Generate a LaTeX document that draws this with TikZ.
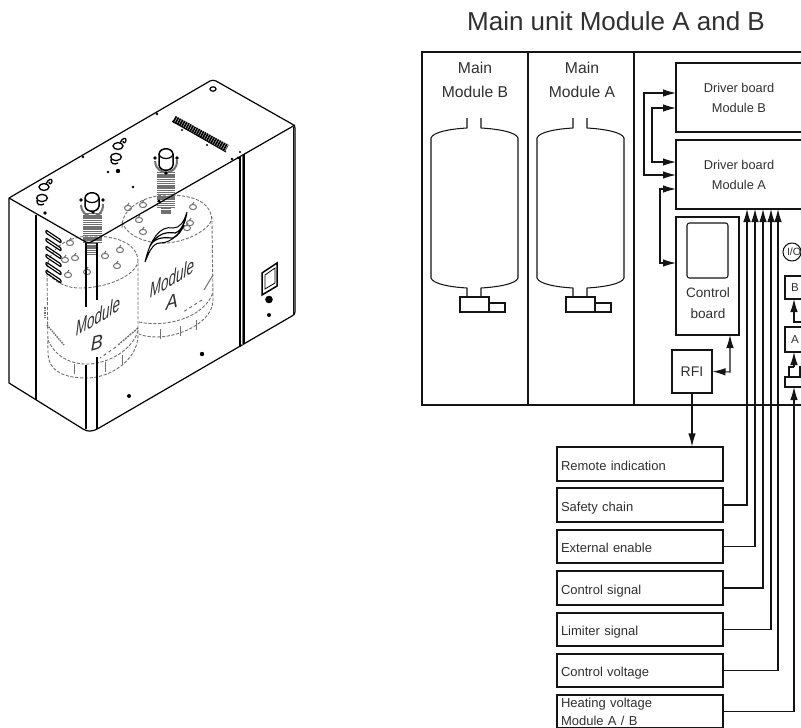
\documentclass[tikz,border=0pt]{standalone}
\usepackage{fontspec}
\setmainfont{Liberation Sans}
\usetikzlibrary{arrows.meta,calc}
\definecolor{ink}{HTML}{141414}
\definecolor{txt}{HTML}{303030}
\definecolor{ghost}{HTML}{707070}
\tikzset{
  wire/.style={draw=ink,line width=1.05pt},
  arr/.style={wire,-{Latex[length=13pt,width=7.5pt]}},
  arrb/.style={wire,{Latex[length=13pt,width=7.5pt]}-{Latex[length=13pt,width=7.5pt]}},
  box/.style={draw=ink,line width=1.05pt,rectangle,inner sep=0pt,text=txt,align=center,font=\fontsize{12.8}{20}\selectfont},
  sig/.style={draw=ink,line width=1.05pt,rectangle,minimum width=166pt,text width=158pt,inner xsep=4pt,inner ysep=0pt,align=left,text=txt,text height=12pt,text depth=0pt,font=\fontsize{13}{19.5}\selectfont},
  captxt/.style={text=txt,align=center,inner sep=0pt,font=\fontsize{13.6}{20.5}\selectfont},
  headtxt/.style={text=txt,align=center,inner sep=0pt,font=\fontsize{15.7}{23.5}\selectfont},
  hid/.style={draw=ghost,line width=0.9pt,dash pattern=on 3.2pt off 1.6pt},
  gbit/.style={draw=ghost,line width=1pt},
  body/.style={draw=black,line width=1.2pt,line join=round},
  modlabel/.style={text=txt,inner sep=0pt,yslant=0.6,xscale=0.64,font=\fontsize{21}{24}\selectfont\itshape},
  letlabel/.style={text=txt,inner sep=0pt,yslant=0.3,xscale=0.9,font=\fontsize{20}{24}\selectfont\itshape},
}
\begin{document}
\begin{tikzpicture}[x=1pt,y=-1pt]
\useasboundingbox (0,0) rectangle (801,728);
\clip (0,0) rectangle (801,728);
% ---------- left illustration: hidden tanks
% tank A
\draw[hid] (122,228) .. controls (121,205) and (150,195) .. (167,195) .. controls (190,195) and (212,200) .. (212,222) -- (213,300) .. controls (213,322) and (180,337) .. (157,337) .. controls (150,337) and (143,336) .. (139,334);
\draw[hid] (122,222) .. controls (128,238) and (150,244) .. (167,243) .. controls (190,241) and (212,228) .. (212,217);
\draw[hid] (139,322) .. controls (165,328) and (205,318) .. (213,292);
\foreach \x/\y in {160/329,180/326,196/320}{\draw[gbit] (\x,\y)--(\x,{\y+10});}
\foreach \x/\y in {139/220,128/208,143/205,193/207,190/223,143/232,187/228}{\draw[gbit] (\x,\y) circle[x radius=3.6pt,y radius=2.6pt];\draw[gbit] (\x-1,\y-2)--(\x+1,\y-5);}
\draw[gbit] (213,275)--(204,290);\draw[gbit,dashed] (202,300)--(183,312);
% tank B
\draw[hid] (47,272) .. controls (47,250) and (65,236) .. (92,236) .. controls (120,236) and (138,245) .. (138,262) -- (138,335) .. controls (138,360) and (110,378) .. (87,378) .. controls (65,378) and (48,372) .. (48,352) -- (47,272);
\draw[hid] (47,270) .. controls (52,282) and (68,289) .. (83,288) .. controls (110,287) and (135,275) .. (138,262);
\draw[hid] (48,340) .. controls (55,356) and (70,365) .. (90,364) .. controls (115,362) and (135,345) .. (138,330);
\foreach \x/\y in {70/243,120/250,117/266,87/272,68/275,65/260,75/258,105/256}{\draw[gbit] (\x,\y) circle[x radius=3.6pt,y radius=2.6pt];\draw[gbit] (\x-1,\y-2)--(\x+1,\y-5);}
\foreach \x/\y in {74/364,105/362,122/355}{\draw[gbit] (\x,\y)--(\x,{\y+10});}
\draw[gbit,line width=1.5pt,dash pattern=on 1.5pt off 1pt] (47,325)--(64,345);
\draw[gbit,line width=1.4pt,dash pattern=on 2pt off 1pt] (138,328)--(118,345);
\draw[gbit,dashed] (116,347)--(100,358);
\draw[gbit,line width=1.5pt,dash pattern=on 1.5pt off 1pt] (45,307)--(45,318);
% bellows and caps
\draw[ghost,line width=18pt,dash pattern=on 1.3pt off 0.9pt] (166,172)--(166,208);
\draw[ghost,line width=10pt,dash pattern=on 1.3pt off 0.9pt] (166,208)--(166,214);
\draw[ghost,line width=19pt,dash pattern=on 1.3pt off 0.9pt] (92,213)--(92,243);
\draw[ghost,line width=11pt,dash pattern=on 1.3pt off 0.9pt] (92,243)--(92,255);
\draw[gbit,line width=2pt] (155,161) .. controls (156,171) and (162,171) .. (166,173) .. controls (172,171) and (177,170) .. (177,160);
\draw[gbit,line width=2pt] (81,205) .. controls (82,215) and (88,215) .. (92,217) .. controls (98,215) and (103,214) .. (103,204);
\foreach \x/\y in {155/158,166/173,177/158,81/200,93/212,103/200}{\fill[black] (\x,\y) circle[radius=1.8pt];}
\draw[body,fill=white,line width=1.5pt] (159,154) -- (159,165) .. controls (160,172) and (172,172) .. (173,165) -- (173,154) .. controls (172,147) and (160,147) .. (159,154) -- cycle;
\draw[body] (159,154) .. controls (160,160) and (172,160) .. (173,154);
\draw[body,fill=white,line width=1.5pt] (85,198) -- (85,206) .. controls (86,213) and (98,213) .. (99,206) -- (99,198) .. controls (98,191) and (86,191) .. (85,198) -- cycle;
\draw[body] (85,198) .. controls (86,204) and (98,204) .. (99,198);
% enclosure
\draw[body] (9,198) -- (210,81) .. controls (212,80) and (214,80) .. (216,81) -- (292,124) .. controls (294,125) and (295,126) .. (295,128) -- (295,312) .. controls (295,314) and (294,315) .. (292,316) -- (99,428) .. controls (92,432) and (88,432) .. (83,429) -- (9,383) -- cycle;
\draw[body] (9,198) -- (84,241) .. controls (87,243) and (90,243) .. (93,241) -- (295,125);
\draw[body] (36,215) -- (36,400);
\draw[body] (86,243) -- (86,307) (97,243) -- (97,300) (86,365) -- (86,429) (97,357) -- (97,429);
\draw[body] (240,157) -- (240,347);
\draw[body,line width=1.5pt] (244,154) -- (244,344);
\draw[ghost,line width=0.8pt] (242,156) -- (242,346);
\draw[ink,line width=0.9pt] (293,127) -- (293,315);
% vent slots
\foreach \k in {0,...,5}{\draw[black,line width=1.2pt,rounded corners=1pt] (46,{230+8*\k}) -- (61,{240+8*\k}) -- (61,{243+8*\k}) -- (46,{233+8*\k}) -- cycle;}
% grill
\draw[black,line width=7pt,dash pattern=on 1.7pt off 0.7pt] (174,119) -- (227,148);
\draw[black,line width=1pt] (172,121)--(226,152);
% top fittings
\draw[black,line width=1.2pt] (213,89) circle[x radius=3pt,y radius=2.2pt];
\foreach \gx/\gy in {0/0,74/-41}{
\begin{scope}[shift={(\gx,\gy)}]
\draw[black,line width=1.3pt] (42,198) circle[x radius=5.4pt,y radius=3.6pt];
\draw[black,line width=1.3pt] (44,187) circle[x radius=5pt,y radius=3.4pt];
\draw[black,line width=1.3pt] (37,200) .. controls (36,205) and (41,206) .. (44,204);
\draw[black,line width=1.3pt] (46,184) .. controls (48,179) and (52,178) .. (52,181) .. controls (52,184) and (49,185) .. (49,182);
\end{scope}}
\foreach \x/\y/\r in {157/114/1.4,83/157/1.4,45/213/1.8,108/172/1.3,118/171/2.2,133/187/1.4,232/159/1.4,238/158/1.4,240/152/1.2,182/130/1.2,207/145/1.2,159/201/1.6,202/354/2.2,129/396/2,269/315/2}{\fill[black] (\x,\y) circle[radius=\r pt];}
% logo
\draw[black,line width=1pt,fill=white] (145,262) .. controls (150,240) and (160,225) .. (173,228) .. controls (180,228) and (184,222) .. (187,212) .. controls (184,232) and (172,243) .. (160,243) .. controls (152,243) and (148,255) .. (145,262) -- cycle;
\draw[black,line width=1.2pt] (150,246) .. controls (158,232) and (168,232) .. (175,233) .. controls (180,232) and (183,226) .. (185,220);
\draw[black,line width=1.2pt] (152,243) .. controls (158,236) and (168,238) .. (173,238) .. controls (178,236) and (182,230) .. (184,225);
% labels on tanks
\node[modlabel] (lblmb) at (98,316) {Module};
\node[letlabel] (lblb) at (97,343) {B};
\node[modlabel] (lblma) at (172,278) {Module};
\node[letlabel] (lbla) at (172,302) {A};
% panel
\draw[black,line width=1.5pt] (262,273) -- (277,263) -- (277,286) -- (262,295) -- cycle;
\draw[black,line width=0.8pt] (265,275) -- (275,268) -- (275,283) -- (265,289) -- cycle;
\fill[black] (269,299.5) circle[radius=3.8pt];
% ---------- right schematic
\node[text=txt,inner sep=0pt,font=\fontsize{26}{30}\selectfont] (title) at (616,21) {Main unit Module A and B};
\draw[wire] (801,52) -- (422,52) -- (422,405) -- (801,405);
\draw[wire] (528,52) -- (528,405) (634,52) -- (634,405);
\node[headtxt] (mb) at (475,80) {Main\\Module B};
\node[headtxt] (ma) at (582,80) {Main\\Module A};
\foreach \d in {0,106}{
\begin{scope}[xshift=\d pt]
\draw[wire,line join=round] (467,118) -- (467,128) .. controls (450,129) and (433,132) .. (431,138) -- (431,278) .. controls (433,284) and (450,287) .. (467,288) -- (467,297);
\draw[wire,line join=round] (481,118) -- (481,128) .. controls (498,129) and (516,132) .. (518,138) -- (518,278) .. controls (516,284) and (498,287) .. (481,288) -- (481,297);
\draw[wire] (460,297) rectangle (489,312);
\draw[wire] (489,303) rectangle (505,312);
\end{scope}}
\node[box,minimum width=126pt,minimum height=69pt] (drvb) at (739,97.5) {Driver board\\Module B};
\node[box,minimum width=126pt,minimum height=69pt] (drva) at (739,174.5) {Driver board\\Module A};
\node[box,minimum width=63pt,minimum height=118pt] (ctrl) at (707.5,276) {};
\draw[wire,rounded corners=2.5pt] (687,223) rectangle (728,278);
\node[captxt] (ctrltxt) at (708,303) {Control\\board};
\node[box,minimum width=40pt,minimum height=43pt,font=\fontsize{14}{16}\selectfont] (rfi) at (692,371.5) {RFI};
\node[sig,minimum height=34pt] (s1) at (640,464) {Remote indication};
\node[sig,minimum height=34pt] (s2) at (640,505) {Safety chain};
\node[sig,minimum height=33pt] (s3) at (640,546.5) {External enable};
\node[sig,minimum height=34pt] (s4) at (640,588) {Control signal};
\node[sig,minimum height=33pt] (s5) at (640,629.5) {Limiter signal};
\node[sig,minimum height=33pt] (s6) at (640,670.5) {Control voltage};
\node[sig,minimum height=33pt,text height=10pt,text depth=18pt,font=\fontsize{13}{17.5}\selectfont] (s7) at (640,711.5) {Heating voltage\\Module A / B};
% driver links
\coordinate (ba) at (676,93); \coordinate (bb) at (676,108);
\coordinate (aa) at (676,175); \coordinate (ab) at (676,162); \coordinate (ac) at (676,189);
\coordinate (ct) at (676,263);
\coordinate (ctb) at (730,335);
\draw[arrb] (ba) -- (644,93) -- (644,175) -- (aa);
\draw[arrb] (bb) -- (652,108) -- (652,162) -- (ab);
\draw[arrb] (ac) -- (660,189) -- (660,263) -- (ct);
\draw[arrb] (ctb) -- (730,372) -- (rfi.east);
\draw[arr] (rfi.south) -- (s1.north -| rfi.south);
\foreach \n/\x in {s2/747,s3/755,s4/763,s5/771,s6/778}{
  \coordinate (in\n) at (\x,209);
  \draw[arr] (\n.east) -| (in\n);
}
% I/O stack
\node[draw=ink,line width=1.05pt,circle,minimum size=18pt,inner sep=0pt] (io) at (792,252) {};
\node[text=txt,inner sep=0pt,font=\fontsize{10.5}{14}\selectfont] (iotxt) at (794,252) {I/O};
\node[box,minimum width=20pt,minimum height=23pt,font=\fontsize{11.5}{14}\selectfont] (bx) at (795,287.5) {B};
\node[box,minimum width=20pt,minimum height=25pt,font=\fontsize{11.5}{14}\selectfont] (ax) at (795,339.5) {A};
\node[box,minimum width=20pt,minimum height=10pt] (fx) at (795,382) {};
\coordinate (bxin) at (794,299); \coordinate (axin) at (794,352); \coordinate (fxin) at (794,387);
\draw[arr] (801,322) -- (794,322) -- (bxin);
\coordinate (forkjoin) at (794,367);
\draw[arr] (forkjoin) -- (axin);
\draw[wire] (789,377) -- (789,367) -- (forkjoin);
\draw[wire] (800,377) -- (800,367) -- (801,367);
\draw[arr] (s7.east) -| (fxin);
\end{tikzpicture}
\end{document}
